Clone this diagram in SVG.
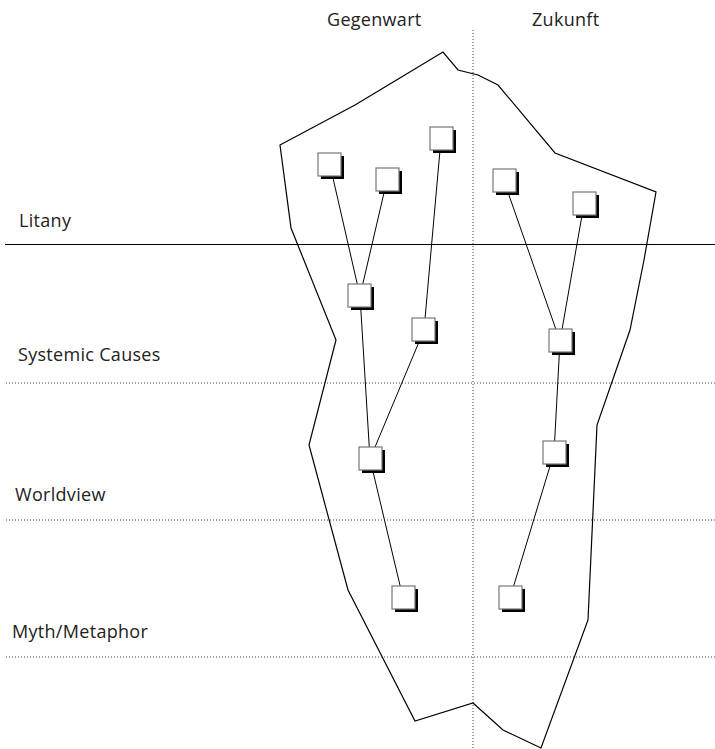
<svg xmlns="http://www.w3.org/2000/svg" width="715" height="749" viewBox="0 0 715 749">
<style>
text{font-family:"Open Sans","DejaVu Sans",sans-serif;font-size:18px;letter-spacing:0.3px;fill:#222}
.dot{stroke:#444;stroke-width:1;stroke-dasharray:1 2;fill:none}
.edge{stroke:#000;stroke-width:1;fill:none}
.box{fill:#fff;stroke:#777;stroke-width:1.2}
.sh{fill:#000}
</style>
<defs>
<g id="node"><rect class="sh" x="3" y="3" width="23" height="23"/><rect class="box" x="0" y="0" width="23" height="23"/></g>
</defs>
<g id="background">
<line x1="5" y1="244.5" x2="715" y2="244.5" stroke="#000" stroke-width="1"/>
<line class="dot" x1="6" y1="383" x2="715" y2="383"/>
<line class="dot" x1="6" y1="520" x2="715" y2="520"/>
<line class="dot" x1="6" y1="657" x2="715" y2="657"/>
<line class="dot" x1="473" y1="30" x2="473" y2="749"/>
<polygon points="280,145 355,105 443,52 458,70 478,75 498,85 555,153 656,192 644,260 630,330 597,425 588,620 541,748 503,730 473,703 415,721 348,590 309,445 336,340 291,228" fill="none" stroke="#000" stroke-width="1.2"/>
</g>
<g id="labels">
<text x="327" y="26">Gegenwart</text>
<text x="532" y="26">Zukunft</text>
<text x="19" y="227">Litany</text>
<text x="18" y="361">Systemic Causes</text>
<text x="15" y="501">Worldview</text>
<text x="12" y="638">Myth/Metaphor</text>
</g>
<g id="connectors">
<line class="edge" x1="330" y1="165" x2="360" y2="296"/>
<line class="edge" x1="387" y1="180" x2="360" y2="296"/>
<line class="edge" x1="441" y1="139" x2="424" y2="330"/>
<line class="edge" x1="360" y1="296" x2="370" y2="459"/>
<line class="edge" x1="424" y1="330" x2="370" y2="459"/>
<line class="edge" x1="370" y1="459" x2="403" y2="598"/>
<line class="edge" x1="504" y1="181" x2="560" y2="341"/>
<line class="edge" x1="584" y1="204" x2="560" y2="341"/>
<line class="edge" x1="560" y1="341" x2="554" y2="453"/>
<line class="edge" x1="554" y1="453" x2="510" y2="598"/>
</g>
<g id="n1"><use href="#node" x="318" y="153"/></g>
<g id="n2"><use href="#node" x="376" y="168"/></g>
<g id="n3"><use href="#node" x="430" y="127"/></g>
<g id="n4"><use href="#node" x="493" y="169"/></g>
<g id="n5"><use href="#node" x="573" y="192"/></g>
<g id="n6"><use href="#node" x="348" y="284"/></g>
<g id="n7"><use href="#node" x="412" y="318"/></g>
<g id="n8"><use href="#node" x="549" y="329"/></g>
<g id="n9"><use href="#node" x="359" y="447"/></g>
<g id="n10"><use href="#node" x="543" y="441"/></g>
<g id="n11"><use href="#node" x="392" y="586"/></g>
<g id="n12"><use href="#node" x="499" y="586"/></g>
</svg>
